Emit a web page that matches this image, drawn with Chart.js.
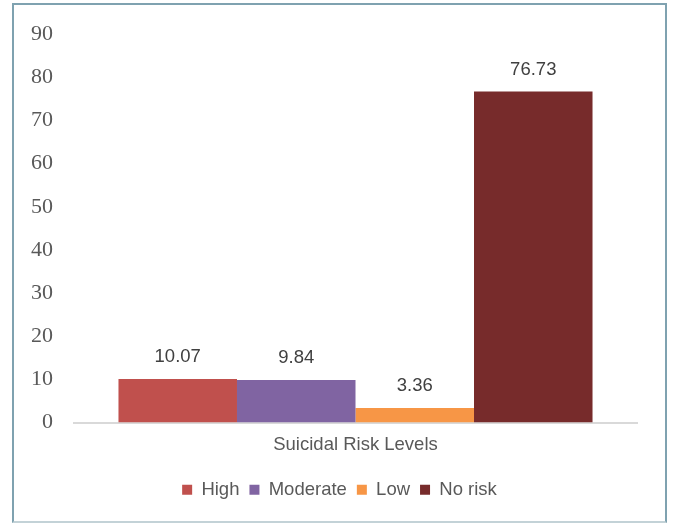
<!DOCTYPE html>
<html>
<head>
<meta charset="utf-8">
<script src="https://cdn.jsdelivr.net/npm/chart.js"></script>
<style>
  html, body { margin: 0; padding: 0; background: #fff; }
  #wrap { position: relative; width: 673px; height: 524px; }
  #frame {
    position: absolute; left: 12px; top: 3px; width: 651px; height: 516px;
    border: 2px solid #7FA2B0; border-bottom-color: #C3D2D7;
    pointer-events: none;
  }
</style>
</head>
<body>
<div id="wrap">
  <canvas id="riskChart" width="673" height="524"></canvas>
  <div id="frame"></div>
</div>
<script>
const categories = ["Suicidal Risk Levels"];
const seriesNames = ["High", "Moderate", "Low", "No risk"];
const seriesValues = [10.07, 9.84, 3.36, 76.73];
const seriesColors = ["#C0504D", "#8064A2", "#F79646", "#772B2B"];
const yTicks = [0, 10, 20, 30, 40, 50, 60, 70, 80, 90];

const sansFont = "'Liberation Sans', Arial, sans-serif";

// value labels above each bar
const valueLabels = {
  id: "valueLabels",
  afterDatasetsDraw(chart) {
    let ctx = chart.ctx;
    ctx.save();
    ctx.font = "18.5px " + sansFont;
    ctx.fillStyle = "#404040";
    ctx.textAlign = "center";
    ctx.textBaseline = "middle";
    chart.data.datasets.forEach((ds, i) => {
      let bar = chart.getDatasetMeta(i).data[0];
      ctx.fillText(ds.data[0].toFixed(2), bar.x, bar.y - 22);
    });
    ctx.restore();
  },
};

// nudge the legend right so it sits where the original has it
const legendShift = {
  id: "legendShift",
  afterLayout(chart) {
    chart.legend.left += 21;
    chart.legend.right += 21;
  },
};

let datasets = seriesNames.map((name, i) => ({
  label: name,
  data: [seriesValues[i]],
  backgroundColor: seriesColors[i],
  borderWidth: 0,
  categoryPercentage: 0.842,
  barPercentage: 1.0,
}));

new Chart(document.getElementById("riskChart"), {
  type: "bar",
  data: { labels: categories, datasets: datasets },
  plugins: [valueLabels, legendShift],
  options: {
    responsive: false,
    animation: false,
    layout: { padding: { left: 0, right: 36, top: 32, bottom: 15 } },
    plugins: {
      tooltip: { enabled: false },
      legend: {
        position: "bottom",
        labels: {
          boxWidth: 10,
          boxHeight: 10,
          padding: 10,
          color: "#595959",
          font: { family: sansFont, size: 18.5 },
        },
      },
    },
    scales: {
      x: {
        grid: { display: false, drawTicks: false },
        border: { display: true, color: "#D9D9D9", width: 2 },
        ticks: {
          padding: 11,
          color: "#595959",
          font: { family: sansFont, size: 18.5 },
        },
        afterFit: (scale) => { scale.height = 48; },
      },
      y: {
        min: 0,
        max: 90,
        grid: { display: false, drawTicks: false },
        border: { display: false },
        afterBuildTicks: (scale) => {
          scale.ticks = yTicks.map((v) => ({ value: v }));
        },
        ticks: {
          padding: 21,
          color: "#595959",
          font: { family: "'Liberation Serif', 'Times New Roman', serif", size: 22 },
        },
        afterFit: (scale) => { scale.width = 74; },
      },
    },
  },
});
</script>
</body>
</html>
